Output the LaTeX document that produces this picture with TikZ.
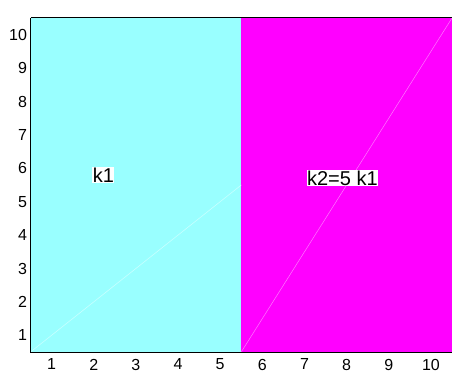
\documentclass[tikz,border=0pt]{standalone}
\usepackage{fontspec}
\setmainfont{Liberation Sans}
\definecolor{cyanfill}{RGB}{153,255,255}
\definecolor{magfill}{RGB}{255,0,255}
\definecolor{cyanedge}{RGB}{200,255,255}
\definecolor{magedge}{RGB}{255,120,255}
\begin{document}
\begin{tikzpicture}[x=1pt,y=1pt,
  ticklab/.style={font=\fontsize{16}{16}\selectfont,inner sep=0pt},
  boxlab/.style={font=\fontsize{20}{20}\selectfont,fill=white,inner sep=0.5pt,text=black}]
\useasboundingbox (0,0) rectangle (452,370);
\begin{scope}[shift={(30.5,18)},x=42.15pt,y=33.4pt]
  \fill[cyanfill] (0,0) rectangle (5,10);
  \fill[magfill] (5,0) rectangle (10,10);
  \draw[cyanedge,line width=0.6pt] (0,0) -- (5,5);
  \draw[magedge,line width=0.5pt] (5,0) -- (10,10);
  \draw[black,line width=1pt] (0,10) -- (10,10);
  \draw[black,line width=1pt] (0,10) -- (0,0) -- (10,0);
  \foreach \i in {1,...,10} {
    \node[ticklab,anchor=north] (xt\i) at (\i-0.5,-0.2) {\i};
    \node[ticklab,anchor=east] (yt\i) at (-0.08,\i-0.5) {\i};
  }
  \node[boxlab] (k1) at (1.73,5.3) {k1};
  \node[boxlab] (k2) at (7.4,5.2) {k2=5 k1};
\end{scope}
\end{tikzpicture}
\end{document}
